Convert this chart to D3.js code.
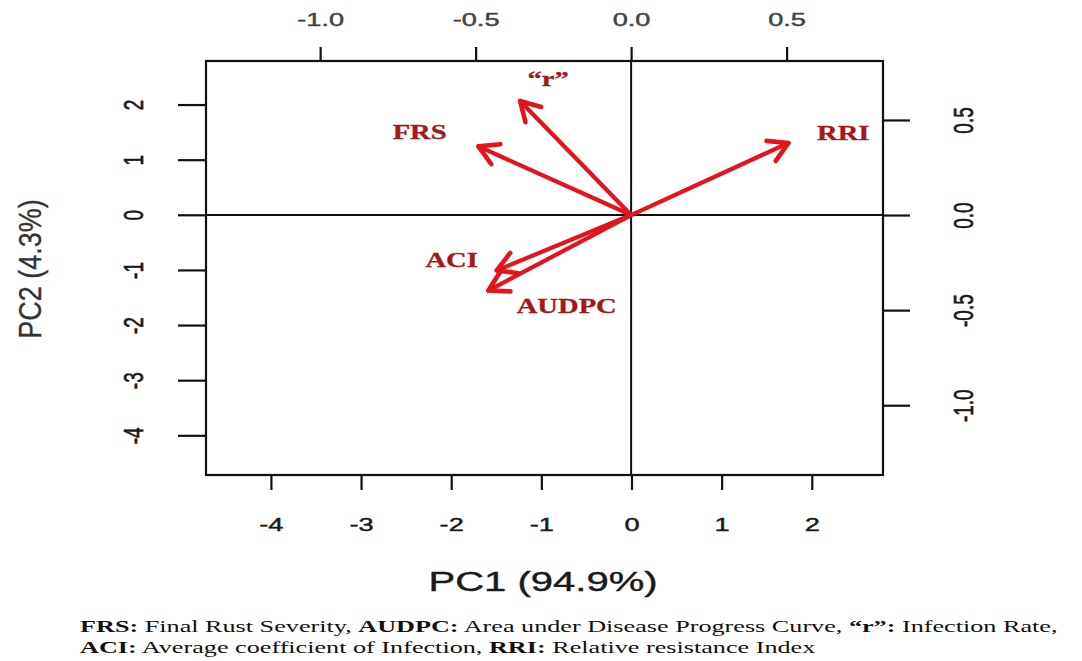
<!DOCTYPE html>
<html>
<head>
<meta charset="utf-8">
<script src="https://cdn.jsdelivr.net/npm/d3@7"></script>
<style>
  html, body { margin: 0; padding: 0; background: #ffffff; }
  svg { display: block; }
</style>
</head>
<body>
<svg id="chart" width="1082" height="661"></svg>
<script>
// ---------------- data ----------------
const pcTicks = [-4, -3, -2, -1, 0, 1, 2];
const loadTicks = [-1.0, -0.5, 0.0, 0.5];
const pcDomain = [-4.72, 2.79];
const loadDomain = [-1.367, 0.81];
const varNames = ["\u201Cr\u201D", "FRS", "RRI", "ACI", "AUDPC"];
const loadPC1 = [-0.357, -0.491, 0.506, -0.432, -0.459];
const loadPC2 = [0.600, 0.361, 0.379, -0.291, -0.397];
const labelPC1 = [-0.267, -0.680, 0.682, -0.577, -0.207];
const labelPC2 = [0.677, 0.402, 0.397, -0.275, -0.517];
const xTitle = "PC1 (94.9%)";
const yTitle = "PC2 (4.3%)";
const captionLine1 = [
  ["FRS:", true], [" Final Rust Severity, ", false],
  ["AUDPC:", true], [" Area under Disease Progress Curve, ", false],
  ["\u201Cr\u201D:", true], [" Infection Rate,", false]
];
const captionLine2 = [
  ["ACI:", true], [" Average coefficient of Infection, ", false],
  ["RRI:", true], [" Relative resistance Index", false]
];

// ---------------- layout ----------------
const svg = d3.select("#chart");
const box = { left: 206, right: 883, top: 61, bottom: 475 };
const SX = 1.43; // horizontal stretch of the original figure
const sans = "'Liberation Sans', Arial, sans-serif";
const serif = "'Liberation Serif', 'Times New Roman', serif";

const x = d3.scaleLinear().domain(pcDomain).range([box.left, box.right]);
const y = d3.scaleLinear().domain(pcDomain).range([box.bottom, box.top]);
const xl = d3.scaleLinear().domain(loadDomain).range([box.left, box.right]);
const yl = d3.scaleLinear().domain(loadDomain).range([box.bottom, box.top]);

function styleAxis(g) {
  g.select(".domain").remove();
  g.selectAll(".tick line").attr("stroke", "#111").attr("stroke-width", 2.2);
  g.selectAll(".tick text")
    .attr("x", null).attr("y", null).attr("dy", null)
    .attr("fill", "#1a1a1a").attr("stroke", "#1a1a1a").attr("stroke-width", 0.45)
    .style("font-family", sans);
}

// bottom axis
const gB = svg.append("g").attr("transform", `translate(0,${box.bottom})`)
  .call(d3.axisBottom(x).tickValues(pcTicks).tickSize(15).tickFormat(d3.format("d")));
styleAxis(gB);
gB.selectAll(".tick text").text(d => String(d))
  .attr("text-anchor", "middle").style("font-size", "19px")
  .attr("transform", `translate(0,56) scale(${SX},1)`);

// top axis
const gT = svg.append("g").attr("transform", `translate(0,${box.top})`)
  .call(d3.axisTop(xl).tickValues(loadTicks).tickSize(14).tickFormat(d3.format(".1f")));
styleAxis(gT);
gT.selectAll(".tick text").text(d => d3.format(".1f")(d).replace("\u2212", "-"))
  .attr("text-anchor", "middle").style("font-size", "19px")
  .attr("fill", "#444").attr("stroke", "#444")
  .attr("transform", `translate(0,-35) scale(${SX},1)`);

// left axis
const gL = svg.append("g").attr("transform", `translate(${box.left},0)`)
  .call(d3.axisLeft(y).tickValues(pcTicks).tickSize(28).tickFormat(d3.format("d")));
styleAxis(gL);
gL.selectAll(".tick text").text(d => String(d))
  .attr("text-anchor", "middle").attr("dominant-baseline", "central").style("font-size", "19px")
  .attr("transform", `translate(-72,0) scale(${SX},1) rotate(-90)`);

// right axis
const gR = svg.append("g").attr("transform", `translate(${box.right},0)`)
  .call(d3.axisRight(yl).tickValues(loadTicks).tickSize(27).tickFormat(d3.format(".1f")));
styleAxis(gR);
gR.selectAll(".tick text").text(d => d3.format(".1f")(d).replace("\u2212", "-"))
  .attr("text-anchor", "middle").attr("dominant-baseline", "central").style("font-size", "19px")
  .attr("transform", `translate(81,0) scale(${SX},1) rotate(-90)`);

// box
svg.append("rect")
  .attr("x", box.left).attr("y", box.top)
  .attr("width", box.right - box.left).attr("height", box.bottom - box.top)
  .attr("fill", "none").attr("stroke", "#111").attr("stroke-width", 2.2);

// zero lines
svg.append("line")
  .attr("x1", xl(0)).attr("x2", xl(0)).attr("y1", box.top).attr("y2", box.bottom)
  .attr("stroke", "#111").attr("stroke-width", 2);
svg.append("line")
  .attr("x1", box.left).attr("x2", box.right).attr("y1", yl(0)).attr("y2", yl(0))
  .attr("stroke", "#111").attr("stroke-width", 2);

// arrows
const arrowColor = "#e3141c";
const headLen = 22, headAng = Math.PI / 6;
const ox = xl(0), oy = yl(0);
const gA = svg.append("g").attr("stroke", arrowColor).attr("stroke-width", 4.2)
  .attr("stroke-linecap", "round").attr("fill", "none");
varNames.forEach((name, i) => {
  const tx = xl(loadPC1[i]), ty = yl(loadPC2[i]);
  const ang = Math.atan2(ty - oy, tx - ox);
  gA.append("line").attr("x1", ox).attr("y1", oy).attr("x2", tx).attr("y2", ty);
  const p1 = [tx - headLen * Math.cos(ang - headAng), ty - headLen * Math.sin(ang - headAng)];
  const p2 = [tx - headLen * Math.cos(ang + headAng), ty - headLen * Math.sin(ang + headAng)];
  gA.append("path").attr("d", `M${p1[0]},${p1[1]}L${tx},${ty}L${p2[0]},${p2[1]}`)
    .attr("stroke-linejoin", "round").attr("stroke-width", 4.6);
});

// arrow labels
svg.append("g").selectAll("text").data(varNames).join("text")
  .attr("transform", (d, i) => `translate(${xl(labelPC1[i])},${yl(labelPC2[i])}) scale(${SX},1)`)
  .attr("text-anchor", "middle")
  .style("font-family", serif).style("font-weight", "bold").style("font-size", "20px")
  .attr("fill", "#a3181b").attr("stroke", "#a3181b").attr("stroke-width", 0.3)
  .text(d => d);

// axis titles
svg.append("text")
  .attr("transform", `translate(543,591) scale(${SX},1)`)
  .attr("text-anchor", "middle").style("font-family", sans).style("font-size", "28px")
  .attr("fill", "#1a1a1a").attr("stroke", "#1a1a1a").attr("stroke-width", 0.4).text(xTitle);
svg.append("text")
  .attr("transform", `translate(30,269) scale(1.15,1) rotate(-90)`)
  .attr("text-anchor", "middle").attr("dominant-baseline", "central")
  .style("font-family", sans).style("font-size", "27px")
  .attr("fill", "#333").attr("stroke", "#333").attr("stroke-width", 0.3).text(yTitle);

// caption
function caption(parts, baseline) {
  const t = svg.append("text").attr("x", 0).attr("y", 0)
    .style("font-family", serif).style("font-size", "16.5px").attr("fill", "#111");
  parts.forEach(([s, b]) => {
    t.append("tspan").style("font-weight", b ? "bold" : "normal").text(s);
  });
  t.attr("transform", `translate(80,${baseline})`);
  return t;
}
const c1 = caption(captionLine1, 632);
const c2 = caption(captionLine2, 653);
const w1 = c1.node().getComputedTextLength();
const capSX = (1058 - 80) / w1;
c1.attr("transform", `translate(80,632) scale(${capSX},1)`);
c2.attr("transform", `translate(80,653) scale(${capSX},1)`);
</script>
</body>
</html>
